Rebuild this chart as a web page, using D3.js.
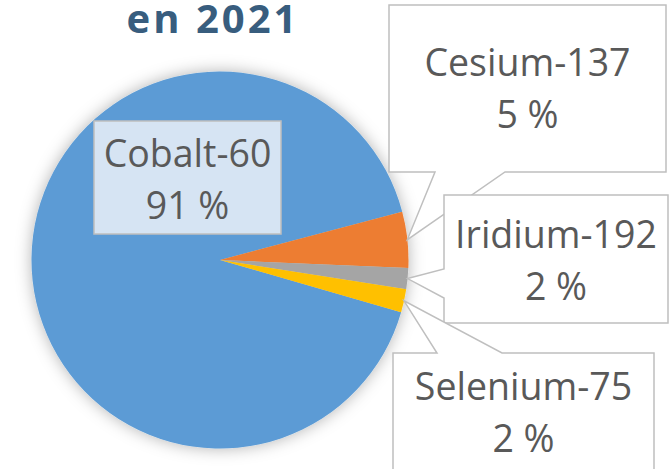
<!DOCTYPE html>
<html>
<head>
<meta charset="utf-8">
<script src="https://cdn.jsdelivr.net/npm/d3@7"></script>
<style>
  html, body { margin: 0; padding: 0; background: #ffffff; }
  svg { display: block; }
</style>
</head>
<body>
<svg id="chart" width="670" height="469"></svg>
<script>
// ---- data ----
const categories = ["Cobalt-60", "Cesium-137", "Iridium-192", "Selenium-75"];
const values = [91.4, 4.8, 1.8, 2.0];
const colors = ["#5B9BD5", "#ED7D31", "#A5A5A5", "#FFC000"];
const titleText = "en 2021";

// ---- layout (label boxes, placed like the reference) ----
const layout = {
  cx: 220, cy: 260, r: 188.5,
  startDeg: 106.1
};
const labelBoxes = [
  { x: 94,  y: 121, w: 187, h: 113, textY: 167, fill: "#D6E4F3", pointer: null },
  { x: 389, y: 5,   w: 277, h: 167, textY: 76,  fill: "#FFFFFF", pointer: { side: "bottom", a: 435, b: 505 } },
  { x: 444, y: 195, w: 224, h: 128, textY: 248, fill: "#FFFFFF", pointer: { side: "left", a: 269, b: 298 } },
  { x: 393, y: 353, w: 261, h: 140, textY: 400, fill: "#FFFFFF", pointer: { side: "top", a: 437, b: 502 } }
];

const svg = d3.select("#chart");
const defs = svg.append("defs");
const f = defs.append("filter").attr("id", "shadow")
  .attr("x", "-30%").attr("y", "-30%").attr("width", "160%").attr("height", "160%");
f.append("feDropShadow").attr("dx", 0).attr("dy", 0).attr("stdDeviation", 8)
  .attr("flood-color", "#000").attr("flood-opacity", 0.3);

const data = categories.map((c, i) => ({ name: c, value: values[i], color: colors[i] }));
const start = layout.startDeg * Math.PI / 180;
const pie = d3.pie().sort(null).value(d => d.value)
  .startAngle(start).endAngle(start + 2 * Math.PI);
const arcs = pie(data);
const arc = d3.arc().innerRadius(0).outerRadius(layout.r);

const g = svg.append("g").attr("transform", `translate(${layout.cx},${layout.cy})`);
g.append("g").attr("filter", "url(#shadow)")
  .selectAll("path").data(arcs).join("path")
  .attr("d", arc)
  .attr("fill", d => d.data.color);

// title
svg.append("text")
  .attr("x", 213).attr("y", 33)
  .attr("text-anchor", "middle")
  .attr("font-family", "'Open Sans', sans-serif")
  .attr("font-weight", "bold")
  .attr("font-size", 40)
  .attr("letter-spacing", 3)
  .attr("fill", "#385D7E")
  .text(titleText);

// labels
const total = d3.sum(values);
const fmt = v => d3.format(".0f")(v / total * 100) + " %";

arcs.forEach((a, i) => {
  const box = labelBoxes[i];
  const mid = (a.startAngle + a.endAngle) / 2;
  const tx = layout.cx + layout.r * Math.sin(mid);
  const ty = layout.cy - layout.r * Math.cos(mid);
  const x0 = box.x, y0 = box.y, x1 = box.x + box.w, y1 = box.y + box.h;
  const p = d3.path();
  const pt = box.pointer;
  p.moveTo(x0, y0);
  if (pt && pt.side === "top") { p.lineTo(pt.a, y0); p.lineTo(tx, ty); p.lineTo(pt.b, y0); }
  p.lineTo(x1, y0);
  p.lineTo(x1, y1);
  if (pt && pt.side === "bottom") { p.lineTo(pt.b, y1); p.lineTo(tx, ty); p.lineTo(pt.a, y1); }
  p.lineTo(x0, y1);
  if (pt && pt.side === "left") { p.lineTo(x0, pt.b); p.lineTo(tx, ty); p.lineTo(x0, pt.a); }
  p.closePath();
  svg.append("path").attr("d", p.toString())
    .attr("fill", box.fill)
    .attr("stroke", "#BFBFBF").attr("stroke-width", 1.5)
    .attr("stroke-linejoin", "miter");
  const t = svg.append("text")
    .attr("text-anchor", "middle")
    .attr("font-family", "'Open Sans', sans-serif")
    .attr("font-size", 37.5)
    .attr("fill", "#595959");
  const cxBox = (x0 + x1) / 2;
  t.append("tspan").attr("x", cxBox).attr("y", box.textY).text(a.data.name);
  t.append("tspan").attr("x", cxBox).attr("y", box.textY + 51.5).text(fmt(a.data.value));
});
</script>
</body>
</html>
